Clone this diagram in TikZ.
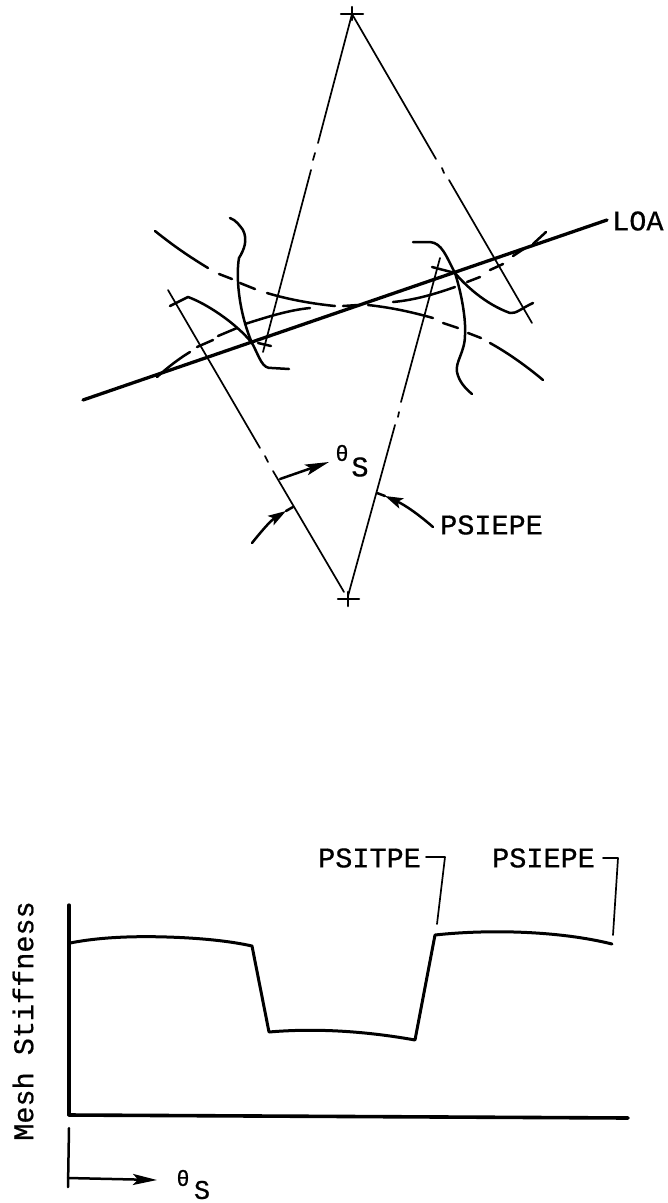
\documentclass[tikz,border=0pt]{standalone}
\usepackage{fontspec}
\setmainfont{Liberation Mono}[FakeBold=0.6]
\usetikzlibrary{arrows.meta}
\tikzset{
 thinline/.style={line width=1.7pt,line cap=round,line join=round},
 gear/.style={line width=2.5pt,line cap=round,line join=round},
 boldline/.style={line width=3.3pt,line cap=round,line join=round},
 lbl/.style={font=\fontsize{28.5}{30}\selectfont,inner sep=0pt},
 sm/.style={font=\fontsize{22}{24}\selectfont,inner sep=0pt},
 head/.style={-{Stealth[length=18pt,width=11pt,inset=4pt]}},
 longhead/.style={-{Stealth[length=24pt,width=11pt,inset=5pt]}},
}
\begin{document}
\begin{tikzpicture}[x=1pt,y=-1pt]
\useasboundingbox (0,0) rectangle (668,1203);
% centres
\coordinate (T) at (352,14);
\coordinate (B) at (348,599);
\draw[gear] (341,14) -- (363,14);
\draw[gear] (352,7) -- (352,20);
\draw[gear] (338,599) -- (359,599);
\draw[gear] (348,592) -- (348,606);
% radial lines
\draw[thinline] (T) -- (318,143);
\draw[thinline] (315,153) -- (313,160);
\draw[thinline] (311,170) -- (263,352);
\draw[thinline] (T) -- (436,159);
\draw[thinline] (442,168) -- (444,173);
\draw[thinline] (449,180) -- (532,323);
\draw[thinline] (168,290) -- (260,448);
\draw[thinline] (265,456) -- (268,462);
\draw[thinline] (273,471) -- (344,592);
\draw[thinline] (440,258) -- (401,402);
\draw[thinline] (399,412) -- (398,417);
\draw[thinline] (395,425) -- (348,596);
% line of action
\draw[boldline] (83,400) -- (607,220);
\node[lbl,anchor=west] (loa) at (612,221) {LOA};
% base circle, upper arc (dashed by hand)
\draw[gear] (155,231) .. controls (175,247) and (190,257) .. (208,268);
\draw[gear] (219,274) -- (232,279);
\draw[gear] (240,283) -- (255,289);
\draw[gear] (267,293) .. controls (290,300) and (315,304) .. (335,306);
\draw[gear] (343,306) -- (358,305);
\draw[gear] (368,305) .. controls (395,308) and (415,313) .. (433,318);
\draw[gear] (443,323) -- (458,328);
\draw[gear] (468,333) -- (481,338);
\draw[gear] (490,343) .. controls (510,354) and (530,369) .. (543,380);
% base circle, lower arc
\draw[gear] (157,377) .. controls (168,367) and (180,358) .. (190,352);
\draw[gear] (197,347) -- (213,340);
\draw[gear] (218,336) -- (237,328);
\draw[gear] (245,324) .. controls (270,316) and (290,310) .. (310,308);
\draw[gear] (393,302) .. controls (415,300) and (435,294) .. (455,287);
\draw[gear] (467,282) -- (480,277);
\draw[gear] (490,270) -- (503,264);
\draw[gear] (513,256) -- (525,248);
\draw[gear] (533,244) -- (546,232);
% left tooth
\draw[gear] (170,306) -- (188,297) .. controls (205,303) and (235,322) .. (252,343)
  .. controls (260,358) and (262,369) .. (272,368) -- (289,369);
\draw[gear] (230,218) .. controls (236,220) and (240,226) .. (243,230)
  .. controls (248,240) and (244,250) .. (239,258)
  .. controls (236,275) and (238,310) .. (252,343);
\draw[gear] (258,343) -- (271,346);
% right tooth
\draw[gear] (413,242) -- (430,242) .. controls (442,243) and (446,256) .. (455,273)
  .. controls (465,285) and (485,304) .. (510,313) .. controls (516,314) and (522,308) .. (533,303);
\draw[gear] (432,267) -- (455,273);
\draw[gear] (455,273) .. controls (462,295) and (466,320) .. (465,335)
  .. controls (465,352) and (455,362) .. (457,372) .. controls (459,382) and (466,389) .. (472,394);
% angle marks
\node[sm] (th1) at (342,453) {θ};
\node[lbl] (s1) at (360,467) {S};
\coordinate (a1) at (280,479);
\coordinate (a2) at (329,462);
\draw[gear,longhead] (a1) -- (a2);
\coordinate (b1) at (252,543);
\coordinate (b2) at (286,511);
\coordinate (b3) at (293,507);
\draw[gear,head] (b1) .. controls (260,533) and (270,521) .. (b2);
\draw[gear] (b2) -- (b3);
\node[lbl,anchor=west] (pe1) at (440,525) {PSIEPE};
\coordinate (c1) at (433,527);
\coordinate (c2) at (385,496);
\coordinate (c3) at (377,493);
\draw[gear,head] (c1) .. controls (418,514) and (405,505) .. (c2);
\draw[gear] (c2) -- (c3);
% stiffness chart
\coordinate (O) at (69,1115);
\draw[boldline] (69,905) -- (O);
\draw[boldline,line width=3.6pt] (O) -- (628,1118);
\draw[boldline,line width=3pt] (70,943) .. controls (100,937) and (135,936) .. (167,937)
  .. controls (200,938) and (230,941) .. (252,946) -- (269,1032)
  .. controls (315,1028) and (365,1031) .. (415,1040) -- (435,935)
  .. controls (490,929) and (560,931) .. (612,944);
\node[lbl,rotate=90] (ms) at (23,1021) {Mesh Stiffness};
\node[lbl,anchor=west] (pt) at (318,858) {PSITPE};
\node[lbl,anchor=west] (pe2) at (492,858) {PSIEPE};
\draw[thinline] (426,857) -- (445,857) -- (437,924);
\draw[thinline] (603,858) -- (618,858) -- (613,935);
\draw[gear] (69,1128) -- (68,1187);
\coordinate (e1) at (68,1178);
\coordinate (e2) at (157,1180);
\draw[gear,longhead] (e1) -- (e2);
\node[sm] (th2) at (183,1178) {θ};
\node[lbl,font=\fontsize{27}{28}\selectfont] (s2) at (202,1190) {S};
\end{tikzpicture}
\end{document}
